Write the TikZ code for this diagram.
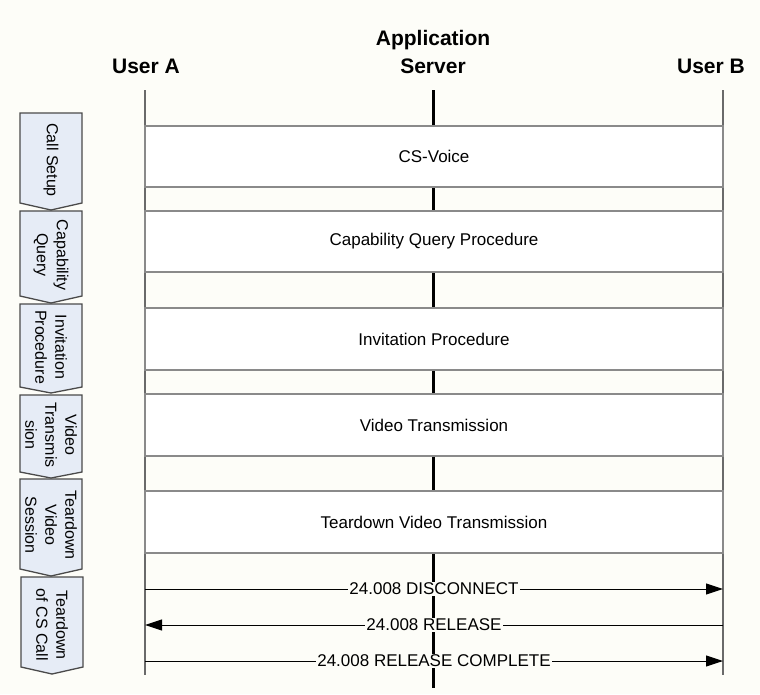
\documentclass[tikz,border=0pt]{standalone}
\usepackage{fontspec}
\setmainfont{Liberation Sans}
\usetikzlibrary{arrows.meta}
\definecolor{bgcol}{HTML}{FDFDF8}
\definecolor{phasefill}{HTML}{E6ECF6}
\definecolor{phaseline}{HTML}{4A4A4A}
\definecolor{boxline}{HTML}{8A8A8A}
\definecolor{lifecol}{HTML}{6A6A6A}
\begin{document}
\begin{tikzpicture}[x=1pt,y=-1pt,
  header/.style={font=\fontsize{21}{28}\selectfont\bfseries, align=center, inner sep=0pt},
  lifeline/.style={draw=lifecol, line width=1.6pt},
  serverline/.style={draw=black, line width=3pt},
  procbox/.style={draw=boxline, line width=1.4pt, fill=white, minimum width=578pt,
    font=\fontsize{17}{20}\selectfont, inner sep=0pt, outer sep=0pt},
  msg/.style={draw=black, line width=1pt, -{Triangle[length=17pt,width=11pt]}},
  msglabel/.style={fill=bgcol, font=\fontsize{17}{20}\selectfont, inner sep=1pt},
  phase/.style={draw=phaseline, line width=1.3pt, fill=phasefill, line join=miter},
  phasetext/.style={rotate=-90, align=center, font=\fontsize{16}{20}\selectfont, inner sep=0pt}
]
\useasboundingbox (0,0) rectangle (760,694);
\fill[bgcol] (0,0) rectangle (760,694);

% headers
\node[header] (hA) at (146,66) {User A};
\node[header] (hS) at (433,52) {Application\\Server};
\node[header] (hB) at (711,66) {User B};

% lifelines
\coordinate (Atop) at (145,90);
\coordinate (Abot) at (145,675);
\coordinate (Stop) at (433,90);
\coordinate (Sbot) at (433,688);
\coordinate (Btop) at (723,90);
\coordinate (Bbot) at (723,675);
\draw[lifeline] (Atop) -- (Abot);
\draw[lifeline] (Btop) -- (Bbot);
\draw[serverline] (Stop) -- (Sbot);

% procedure boxes
\node[procbox, minimum height=61pt] (b1) at (434,156.5) {CS-Voice};
\node[procbox, minimum height=61pt] (b2) at (434,241.5) {Capability Query Procedure};
\node[procbox, minimum height=62pt] (b3) at (434,339) {Invitation Procedure};
\node[procbox, minimum height=62pt] (b4) at (434,425) {Video Transmission};
\node[procbox, minimum height=62pt] (b5) at (434,522) {Teardown Video Transmission};

% messages
\coordinate (a1) at (145,589);
\coordinate (e1) at (723,589);
\coordinate (a2) at (145,625);
\coordinate (e2) at (723,625);
\coordinate (a3) at (145,661);
\coordinate (e3) at (723,661);
\draw[msg] (a1) -- node[msglabel] (m1) {24.008 DISCONNECT} (e1);
\draw[msg] (e2) -- node[msglabel] (m2) {24.008 RELEASE} (a2);
\draw[msg] (a3) -- node[msglabel] (m3) {24.008 RELEASE COMPLETE} (e3);

% phase chevrons
\draw[phase] (20,113) -- (82,113) -- (82,203) -- (51,210) -- (20,203) -- cycle;
\node[phasetext] (p1) at (51,160) {Call Setup};
\draw[phase] (20,211) -- (82,211) -- (82,296) -- (51,303) -- (20,296) -- cycle;
\node[phasetext] (p2) at (51,255) {Capability\\Query};
\draw[phase] (20,304) -- (82,304) -- (82,387) -- (51,393) -- (20,387) -- cycle;
\node[phasetext] (p3) at (51,347) {Invitation\\Procedure};
\draw[phase] (20,395) -- (82,395) -- (82,472) -- (51,478) -- (20,472) -- cycle;
\node[phasetext] (p4) at (51,435) {Video\\Transmis\\sion};
\draw[phase] (20,479) -- (82,479) -- (82,569) -- (51,576) -- (20,569) -- cycle;
\node[phasetext] (p5) at (51,525) {Teardown\\Video\\Session};
\draw[phase] (21,577) -- (83,577) -- (83,667) -- (52,674) -- (21,667) -- cycle;
\node[phasetext] (p6) at (52,625) {Teardown\\of CS Call};
\end{tikzpicture}
\end{document}
